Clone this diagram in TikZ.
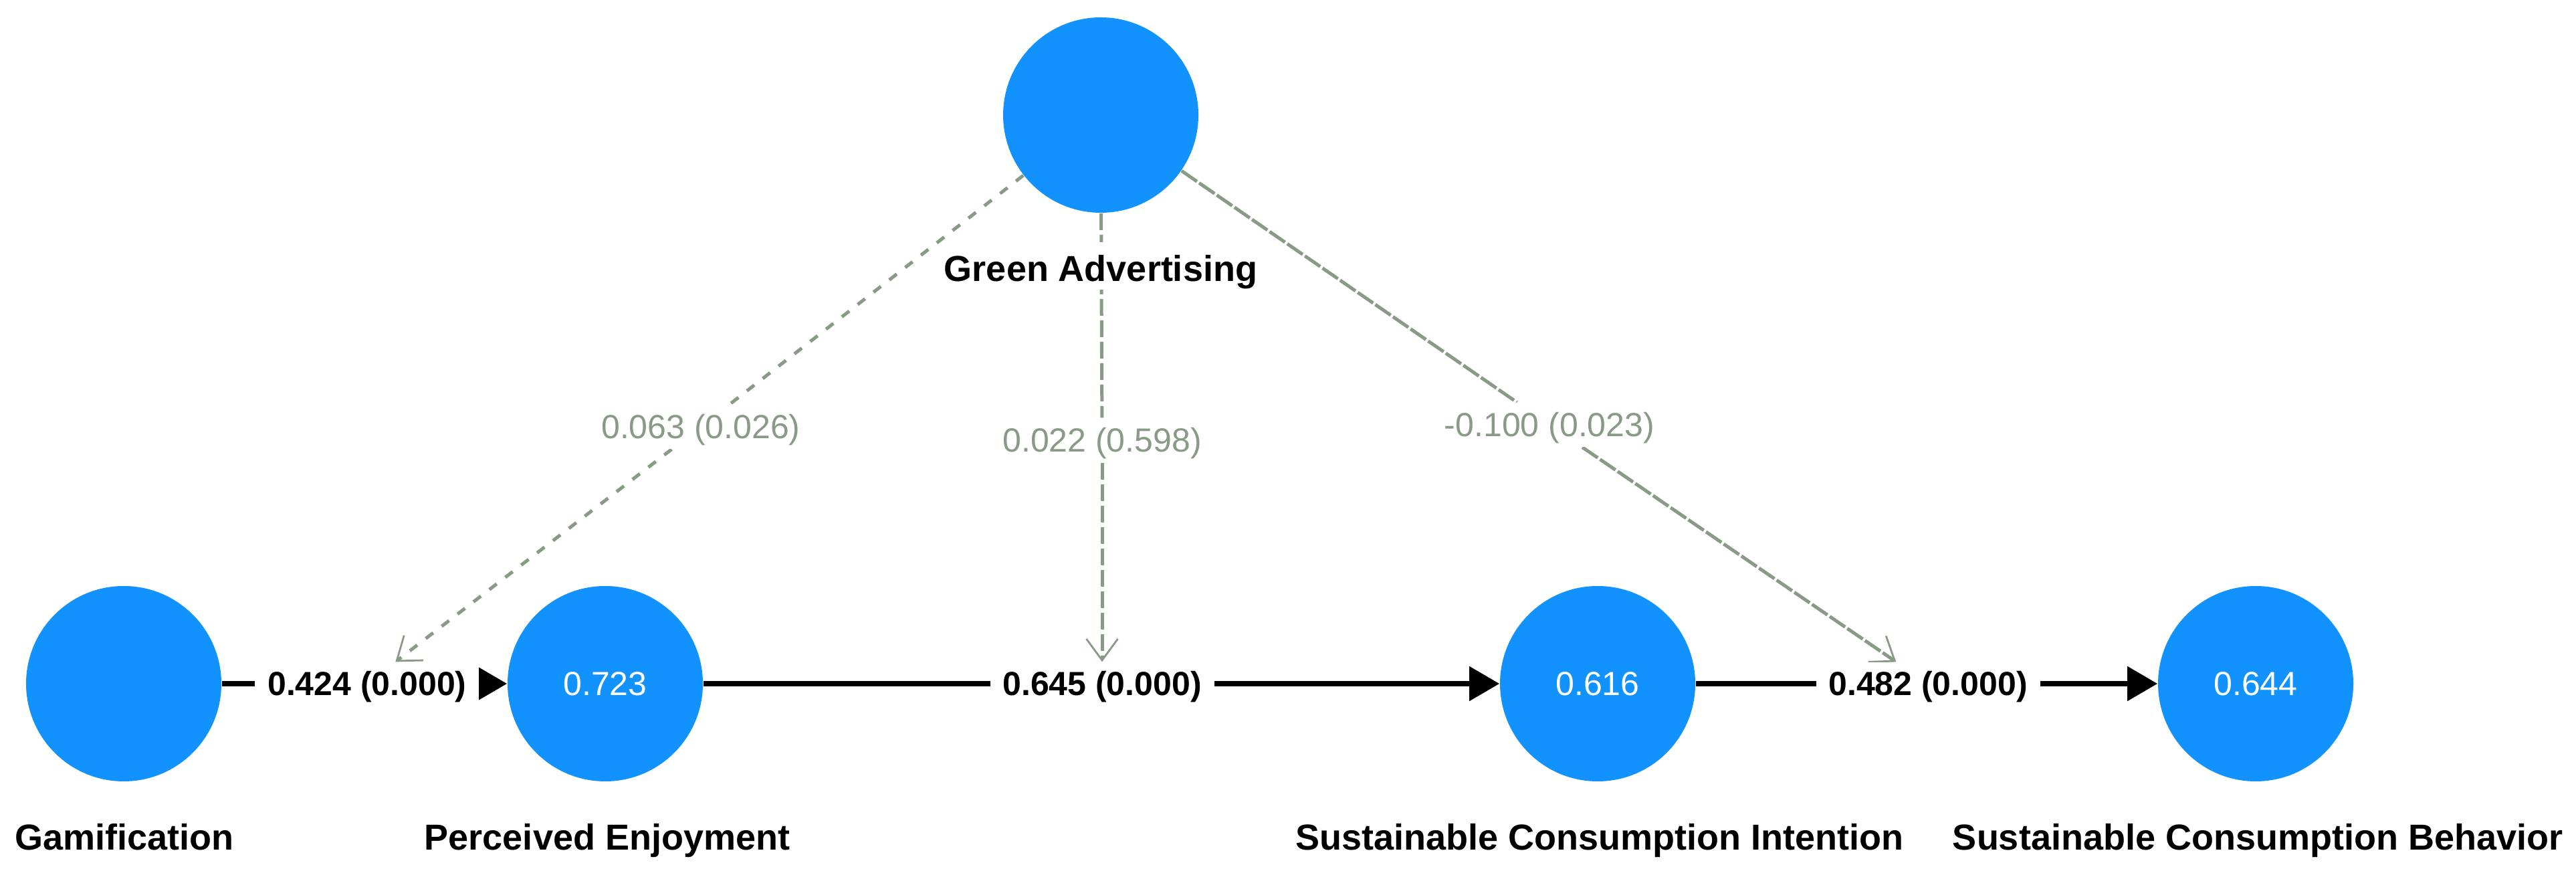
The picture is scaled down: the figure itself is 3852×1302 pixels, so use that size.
\documentclass[tikz,border=0pt]{standalone}
\usepackage{fontspec}
\setmainfont{Liberation Sans}
\usetikzlibrary{arrows.meta,backgrounds}
\definecolor{lvblue}{RGB}{17,146,255}
\definecolor{modgray}{RGB}{137,154,134}
\tikzset{
  lv/.style={circle, fill=lvblue, minimum size=73pt, inner sep=0pt, text=white,
    font=\fontsize{12.5pt}{15pt}\selectfont, text height=8.9pt, text depth=0pt},
  lvname/.style={anchor=base, inner sep=0pt, font=\fontsize{13.5pt}{16pt}\selectfont\bfseries},
  pathlab/.style={fill=white, font=\fontsize{12.5pt}{15pt}\selectfont\bfseries,
    text height=8.9pt, text depth=0pt, inner xsep=4.5pt, inner ysep=3.5pt},
  modlab/.style={fill=white, text=modgray, font=\fontsize{12.5pt}{15pt}\selectfont,
    text height=8.9pt, text depth=0pt, inner xsep=2pt, inner ysep=3.75pt},
  structpath/.style={line width=2pt, black},
  structarrow/.style={structpath, -{Triangle[length=11.25pt,width=12.5pt]}},
  modpath/.style={line width=1.25pt, modgray},
  modarrow/.style={modpath, -{Straight Barb[length=8pt,width=11.75pt,line width=0.7pt]}},
  dashA/.style={dash pattern=on 3.5pt off 4pt},
  dashB/.style={dash pattern=on 6.25pt off 1.75pt},
  dashC/.style={dash pattern=on 7pt off 1pt},
}
\begin{document}
\begin{tikzpicture}[x=0.25pt,y=-0.25pt]
\useasboundingbox (0,0) rectangle (3852,1302);

% latent variables
\node[lv] (ga)  at (1646,172)  {};
\node[lv] (gam) at (185,1022)  {};
\node[lv] (pe)  at (905,1022)  {0.723};
\node[lv] (sci) at (2389,1022) {0.616};
\node[lv] (scb) at (3373,1022) {0.644};

% names
\node[lvname, fill=white, text height=14.7pt, text depth=2.9pt] (gaL) at (1646,421) {Green Advertising};
\node[lvname] (gamL) at (186,1270)  {Gamification};
\node[lvname] (peL)  at (908,1270)  {Perceived Enjoyment};
\node[lvname] (sciL) at (2392,1270) {Sustainable Consumption Intention};
\node[lvname] (scbL) at (3376,1270) {Sustainable Consumption Behavior};

% path labels
\node[pathlab] (l1) at (549,1022)  {0.424 (0.000)};
\node[pathlab] (l2) at (1648,1022) {0.645 (0.000)};
\node[pathlab] (l3) at (2883,1022) {0.482 (0.000)};

% moderating labels
\node[modlab] (m1) at (1048,638) {0.063 (0.026)};
\node[modlab] (m2) at (1648,658) {0.022 (0.598)};
\node[modlab] (m3) at (2317,635) {-0.100 (0.023)};

\begin{pgfonlayer}{background}
\fill[white] (0,0) rectangle (3852,1302);
% structural paths
\draw[structpath]  (gam) -- (l1);
\draw[structarrow] (l1) -- (pe);
\draw[structpath]  (pe) -- (l2);
\draw[structarrow] (l2) -- (sci);
\draw[structpath]  (sci) -- (l3);
\draw[structarrow] (l3) -- (scb);
% moderating paths
\draw[modpath, dashA]  (ga) -- (m1);
\draw[modarrow, dashA] (m1) -- (l1);
\draw[modpath, dashB]  (ga) -- (m2);
\draw[modarrow, dashB] (m2) -- (l2);
\draw[modpath, dashC]  (ga) -- (m3);
\draw[modarrow, dashC] (m3) -- (l3);
\end{pgfonlayer}
\end{tikzpicture}
\end{document}
